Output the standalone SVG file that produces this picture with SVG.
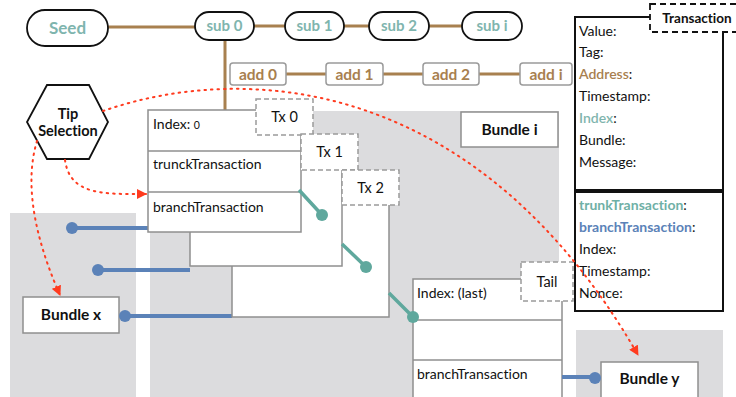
<svg xmlns="http://www.w3.org/2000/svg" width="736" height="397" viewBox="0 0 736 397">
<style>
text{font-family:Lato,"Open Sans","Liberation Sans",sans-serif;font-variant-ligatures:none;}
.pill{fill:#fff;stroke:#111;stroke-width:1.8;}
.pt{fill:#7fb5ae;font-weight:bold;font-size:15px;text-anchor:middle;}
.add{fill:#fff;stroke:#9a9a9a;stroke-width:1.5;}
.at{fill:#a8804f;font-weight:bold;font-size:15.5px;text-anchor:middle;}
.br{stroke:#a8804f;stroke-width:3;fill:none;}
.gray{fill:#dcdcde;}
.box{fill:#fff;stroke:#8f8f8f;stroke-width:1.5;}
.dash{fill:#fff;stroke:#9a9a9a;stroke-width:1.5;stroke-dasharray:5,3;}
.t{fill:#111;font-size:14px;}
.tc{fill:#111;font-size:14.5px;text-anchor:middle;}
.bl{fill:#111;font-weight:bold;font-size:15.5px;text-anchor:middle;}
.teal{stroke:#5fa89d;stroke-width:3.5;fill:none;}
.tealc{fill:#5fa89d;}
.blue{stroke:#5b82b8;stroke-width:4;fill:none;}
.bluec{fill:#5b82b8;}
.red{stroke:#ff3b1f;stroke-width:2;stroke-dasharray:1.5,5;stroke-linecap:round;fill:none;}
.pan{fill:#fff;stroke:#111;stroke-width:2;}
.pf{fill:#111;font-size:14px;}
</style>
<defs>
<marker id="ah" markerWidth="10" markerHeight="10" refX="9" refY="5" orient="auto" markerUnits="userSpaceOnUse">
<path d="M0,0 L10,5 L0,10 z" fill="#ff3b1f"/>
</marker>
</defs>
<rect width="736" height="397" fill="#fff"/>
<!-- backgrounds -->
<rect class="gray" x="10" y="213" width="126" height="184"/>
<rect class="gray" x="150" y="111" width="409" height="286"/>
<rect class="gray" x="576" y="330" width="147" height="67"/>

<g id="connectors-top">
<path class="br" d="M108,27 H195 M254,26 H285 M344,26 H369 M429,26 H462 M225,40 V110 M286,74 H326 M383,74 H423 M479,74 H520"/>
</g>

<g id="seed"><rect class="pill" x="27" y="10" width="81" height="36" rx="18"/><text class="pt" x="67.5" y="34" style="font-size:17px">Seed</text></g>
<g id="sub0"><rect class="pill" x="195" y="12" width="59" height="28" rx="14"/><text class="pt" x="224.5" y="31">sub 0</text></g>
<g id="sub1"><rect class="pill" x="285" y="12" width="59" height="28" rx="14"/><text class="pt" x="314.5" y="31">sub 1</text></g>
<g id="sub2"><rect class="pill" x="369" y="12" width="60" height="28" rx="14"/><text class="pt" x="399" y="31">sub 2</text></g>
<g id="subi"><rect class="pill" x="462" y="12" width="60" height="28" rx="14"/><text class="pt" x="492" y="31">sub i</text></g>

<g id="add0"><rect class="add" x="230" y="63" width="56" height="22" rx="3"/><text class="at" x="258" y="79.5">add 0</text></g>
<g id="add1"><rect class="add" x="326" y="63" width="57" height="22" rx="3"/><text class="at" x="354.5" y="79.5">add 1</text></g>
<g id="add2"><rect class="add" x="423" y="63" width="56" height="22" rx="3"/><text class="at" x="451" y="79.5">add 2</text></g>
<g id="addi"><rect class="add" x="520" y="63" width="52" height="22" rx="3"/><text class="at" x="546" y="79.5">add i</text></g>

<g id="tip-selection">
<polygon points="47,85 89,85 108,122 89,159 47,159 27,122" fill="#fff" stroke="#111" stroke-width="1.8"/>
<text class="tc" x="68" y="119" style="font-weight:bold;font-size:14.5px">Tip</text>
<text class="tc" x="68" y="136" style="font-weight:bold;font-size:14.5px">Selection</text>
</g>

<g id="bundle-i"><rect class="box" x="461" y="112" width="97" height="35"/><text class="bl" x="509.5" y="135">Bundle i</text></g>
<g id="bundle-x"><rect class="box" x="23" y="297" width="96" height="36"/><text class="bl" x="71" y="320">Bundle x</text></g>
<g id="bundle-y"><rect class="box" x="601" y="362" width="97" height="40"/><text class="bl" x="649.5" y="384">Bundle y</text></g>

<g id="blue-links">
<path class="blue" d="M72,228 H148 M98,270 H190 M125,316 H232"/>
<circle class="bluec" cx="72" cy="228" r="6"/>
<circle class="bluec" cx="98" cy="270" r="6"/>
<circle class="bluec" cx="125" cy="316" r="6"/>
</g>

<g id="tx2"><rect class="box" x="232" y="181" width="157" height="136"/></g>
<g id="tx1"><rect class="box" x="190" y="146" width="152" height="120"/></g>
<g id="tx0">
<rect class="box" x="148" y="110" width="153" height="122"/>
<line x1="148" y1="151" x2="301" y2="151" stroke="#8f8f8f" stroke-width="1.5"/>
<line x1="148" y1="192" x2="301" y2="192" stroke="#8f8f8f" stroke-width="1.5"/>
<text class="t" x="153" y="129">Index: <tspan style="font-size:10.5px">0</tspan></text>
<text class="t" x="153" y="169">trunckTransaction</text>
<text class="t" x="153" y="212">branchTransaction</text>
</g>
<g id="tx0-label"><rect class="dash" x="256" y="99" width="57" height="36"/><text class="tc" x="284.5" y="122">Tx 0</text></g>
<g id="tx1-label"><rect class="dash" x="301" y="134" width="57" height="36"/><text class="tc" x="329.5" y="157">Tx 1</text></g>
<g id="tx2-label"><rect class="dash" x="342" y="170" width="57" height="35"/><text class="tc" x="370.5" y="193">Tx 2</text></g>

<g id="tx-last">
<rect class="box" x="413" y="279" width="149" height="125"/>
<line x1="413" y1="320" x2="562" y2="320" stroke="#8f8f8f" stroke-width="1.5"/>
<line x1="413" y1="360" x2="562" y2="360" stroke="#8f8f8f" stroke-width="1.5"/>
<text class="t" x="417" y="298">Index: (last)</text>
<text class="t" x="417" y="379">branchTransaction</text>
</g>
<g id="tail-label"><rect class="dash" x="521" y="262" width="52" height="39"/><text class="tc" x="547" y="287">Tail</text></g>

<g id="teal-links">
<path class="teal" d="M299,190 L322,215 M342,244 L366,267 M389,293 L413,317"/>
<circle class="tealc" cx="322" cy="215" r="6"/>
<circle class="tealc" cx="366" cy="267" r="6"/>
<circle class="tealc" cx="413" cy="317" r="6"/>
</g>

<g id="blue-link-y">
<path class="blue" d="M562,377 H595"/>
<circle class="bluec" cx="595" cy="378" r="6"/>
</g>

<g id="transaction-panel">
<rect class="pan" x="575" y="17" width="148" height="173"/>
<rect class="pan" x="575" y="192" width="148" height="119"/>
<text class="pf" x="579" y="36">Value:</text>
<text class="pf" x="579" y="57">Tag:</text>
<text class="pf" x="579" y="79"><tspan fill="#a8804f" font-weight="600">Address</tspan>:</text>
<text class="pf" x="579" y="101">Timestamp:</text>
<text class="pf" x="579" y="123"><tspan fill="#7fb5ae" font-weight="600">Index</tspan>:</text>
<text class="pf" x="579" y="145">Bundle:</text>
<text class="pf" x="579" y="167">Message:</text>
<text class="pf" x="579" y="210"><tspan fill="#6fb0a6" font-weight="bold">trunkTransaction</tspan>:</text>
<text class="pf" x="579" y="232"><tspan fill="#5b82b8" font-weight="bold">branchTransaction</tspan>:</text>
<text class="pf" x="579" y="254">Index:</text>
<text class="pf" x="579" y="276">Timestamp:</text>
<text class="pf" x="579" y="298">Nonce:</text>
</g>
<g id="transaction-label">
<rect x="650" y="4" width="95" height="28" fill="#fff" stroke="#111" stroke-width="1.8" stroke-dasharray="6,4"/>
<text x="697" y="23" style="font-weight:bold;font-size:13.5px;fill:#111;text-anchor:middle">Transaction</text>
</g>

<g id="red-arrows">
<path class="red" d="M103,111 C250,60 480,80 638,355" marker-end="url(#ah)"/>
<path class="red" d="M65,160 C70,196 105,194 146,194" marker-end="url(#ah)"/>
<path class="red" d="M37,141 C22,190 40,250 60,295" marker-end="url(#ah)"/>
</g>
</svg>
